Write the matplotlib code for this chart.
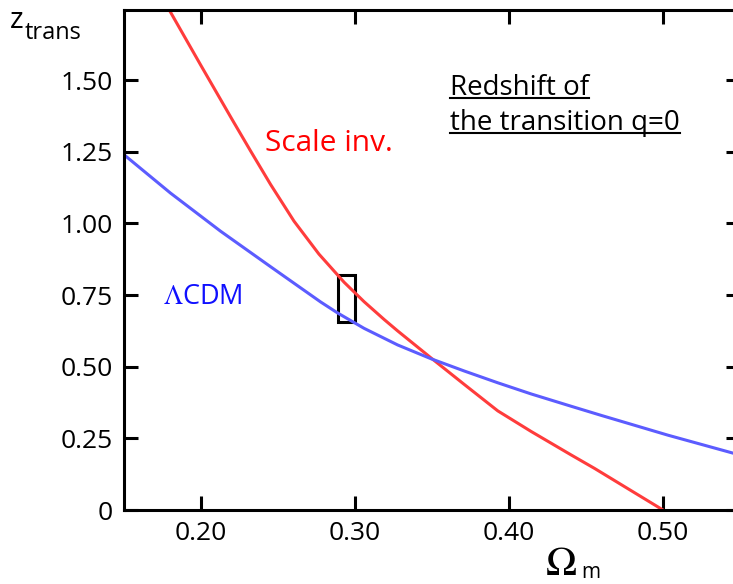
import numpy as np
import matplotlib
matplotlib.use("Agg")
import matplotlib.pyplot as plt
from matplotlib.patches import Rectangle
from matplotlib.lines import Line2D
import matplotlib.transforms as mtransforms

plt.rcParams['font.family'] = ['Open Sans', 'DejaVu Sans']
plt.rcParams['mathtext.fontset'] = 'stix'

# scale invariant model (red)
omega_si = [0.1794, 0.2000, 0.2203, 0.2322, 0.2452, 0.2604, 0.2766, 0.2929, 0.3059,
            0.3189, 0.3277, 0.3493, 0.3710, 0.3927, 0.4144, 0.4404, 0.4556, 0.50]
z_si = [1.745, 1.551, 1.362, 1.253, 1.136, 1.008, 0.893, 0.795, 0.727,
        0.665, 0.625, 0.531, 0.438, 0.346, 0.274, 0.192, 0.145, 0.0]

# LCDM (blue)
omega_lcdm = [0.150, 0.1802, 0.2127, 0.2452, 0.2777, 0.2886, 0.3059, 0.3277, 0.3493,
              0.3710, 0.3927, 0.4144, 0.4404, 0.4600, 0.5033, 0.5505]
z_lcdm = [1.240, 1.106, 0.973, 0.849, 0.726, 0.688, 0.634, 0.576, 0.528,
          0.485, 0.444, 0.405, 0.362, 0.330, 0.261, 0.191]

# the small box
box_omega = [0.289, 0.300]
box_z = [0.657, 0.820]

x_ticks = [0.20, 0.30, 0.40, 0.50]
x_labels = ['0.20', '0.30', '0.40', '0.50']
y_ticks = [0, 0.25, 0.50, 0.75, 1.00, 1.25, 1.50]
y_labels = ['0', '0.25', '0.50', '0.75', '1.00', '1.25', '1.50']

W, H = 733, 584
fig = plt.figure(figsize=(W / 100, H / 100), dpi=100)
# right spine sits just outside the picture, like the cropped original
ax = fig.add_axes([124 / W, 74 / H, 616 / W, 500 / H])

ax.plot(omega_si, z_si, color='#ff3c3c', lw=2.2)
ax.plot(omega_lcdm, z_lcdm, color='#5c5cff', lw=2.2)
ax.add_patch(Rectangle((box_omega[0], box_z[0]), box_omega[1] - box_omega[0],
                       box_z[1] - box_z[0], fill=False, ec='black', lw=2.2))

ax.set_xlim(0.15, 0.55)
ax.set_ylim(0, 1.745)
ax.set_xticks(x_ticks, x_labels)
ax.set_yticks(y_ticks, y_labels)
ax.tick_params(direction='in', top=True, right=True, length=10, width=2.2,
               labelsize=19, pad=8)
for s in ax.spines.values():
    s.set_linewidth(2.2)

ax.text(0.2413, 1.28, 'Scale inv.', color='#ff0000', fontsize=21.5, va='center')
ax.text(0.1756, 0.742, r'$\Lambda$CDM', color='#1010ff', fontsize=19.5, va='center')

t1 = ax.text(0.3619, 1.448, 'Redshift of', fontsize=20, va='baseline')
t2 = ax.text(0.3619, 1.326, 'the transition q=0', fontsize=20, va='baseline')

# axis titles
fig.text(10 / W, 1 - 28 / H, 'z', fontsize=21, va='baseline')
fig.text(25 / W, 1 - 39 / H, 'trans', fontsize=17, va='baseline')
fig.text(545 / W, 1 - 575 / H, r'$\Omega$', fontsize=30, va='baseline')
fig.text(581 / W, 1 - 578 / H, 'm', fontsize=15, va='baseline')

# underline the note
fig.canvas.draw()
r = fig.canvas.get_renderer()
for t in (t1, t2):
    bb = t.get_window_extent(r)
    base = ax.transData.transform(t.get_position())[1] - 2.5
    fig.add_artist(Line2D([bb.x0, bb.x1], [base, base], color='black', lw=1.5,
                          transform=mtransforms.IdentityTransform()))

fig.savefig('out.png', dpi=100)
